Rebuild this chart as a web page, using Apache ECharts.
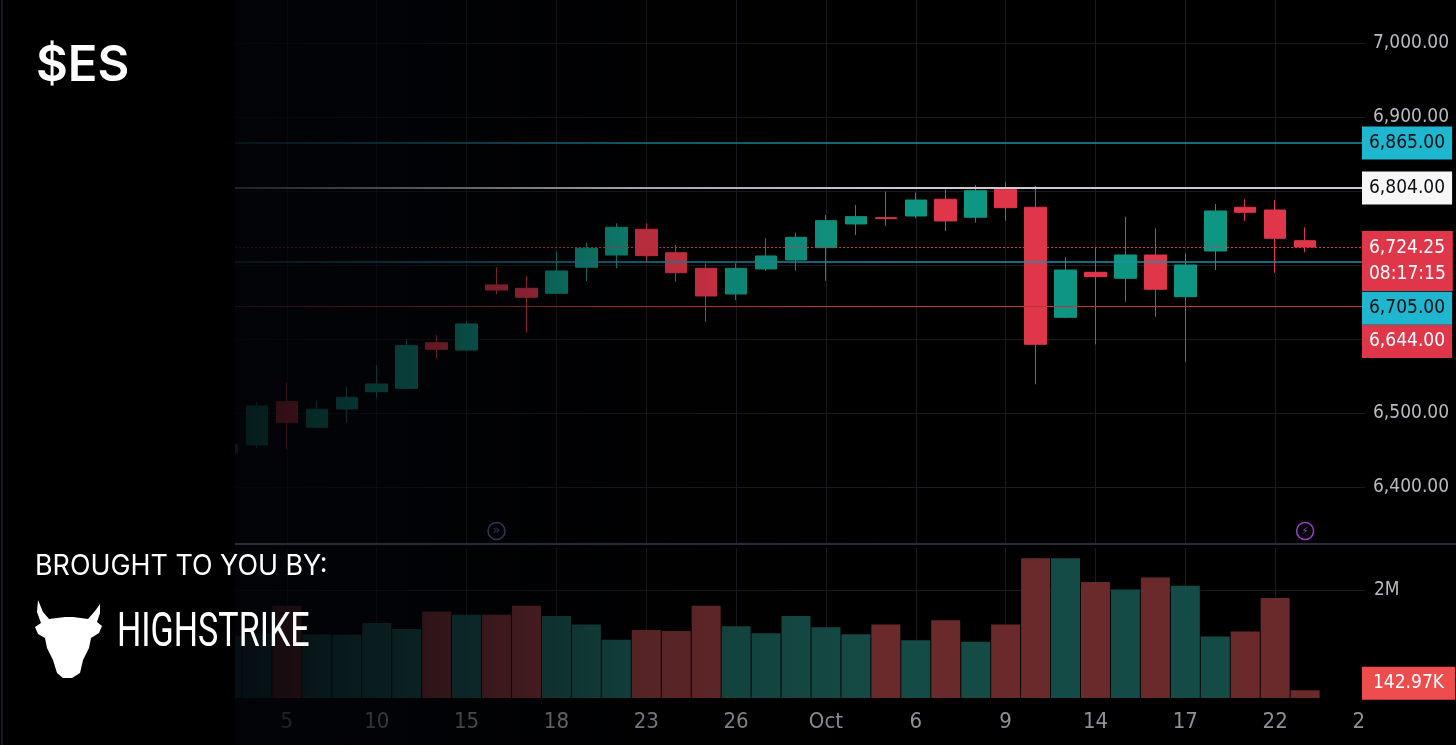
<!DOCTYPE html>
<html lang="en">
<head>
    <meta charset="UTF-8">
    <title>$ES daily</title>
    <script src="https://cdn.jsdelivr.net/npm/echarts@6/dist/echarts.min.js"></script>
    <style>
        html, body { margin: 0; padding: 0; background: #000; }
        #main { width: 1456px; height: 745px; }
    </style>
</head>
<body>
<div id="main"></div>
<script type="text/javascript">
    // daily candles, Sep 3 - Oct 27 (last two days still empty)
    var dates = ['2025-09-03','2025-09-04','2025-09-05','2025-09-08','2025-09-09','2025-09-10','2025-09-11','2025-09-12',
        '2025-09-15','2025-09-16','2025-09-17','2025-09-18','2025-09-19','2025-09-22','2025-09-23','2025-09-24',
        '2025-09-25','2025-09-26','2025-09-29','2025-09-30','2025-10-01','2025-10-02','2025-10-03','2025-10-06',
        '2025-10-07','2025-10-08','2025-10-09','2025-10-10','2025-10-13','2025-10-14','2025-10-15','2025-10-16',
        '2025-10-17','2025-10-20','2025-10-21','2025-10-22','2025-10-23','2025-10-24','2025-10-27'];
    var opens  = [6446, 6456.8, 6515.3, 6480.7, 6505.4, 6528.8, 6533.4, 6595, 6585.1, 6673, 6668.5, 6661.8, 6696.9,
        6713.5, 6748.2, 6716.6, 6695.5, 6660.8, 6694.6, 6706.8, 6723.4, 6755.4, 6763.9, 6766.2, 6788.8, 6764.5,
        6802.3, 6778, 6629.3, 6690.1, 6682, 6713.5, 6657.2, 6718.9, 6778, 6774.3, 6732.8];
    var highs  = [6461, 6515.3, 6541, 6516.6, 6534.7, 6564.9, 6599.6, 6605.4, 6623.4, 6696.9, 6685.1, 6718, 6730.1,
        6756.4, 6756.4, 6727, 6702.3, 6702.3, 6736.1, 6743.6, 6767.6, 6781.1, 6799.1, 6797.7, 6802.3, 6808.1,
        6811.8, 6806.8, 6710.4, 6723.4, 6765.3, 6749.6, 6715.8, 6782.4, 6788.8, 6787.8, 6750.9];
    var lows   = [6440, 6453.1, 6451, 6479.3, 6486.9, 6519.9, 6532, 6574, 6584, 6660.4, 6608.5, 6660.8, 6678.4,
        6695.5, 6703.1, 6677.4, 6623.4, 6652.7, 6692, 6692.3, 6678.8, 6740.5, 6752.7, 6763.1, 6745.9, 6757.2,
        6759.9, 6538.8, 6628, 6592.8, 6650.4, 6630.1, 6569.3, 6693.2, 6759.5, 6689.6, 6717.2];
    var closes = [6457, 6509.5, 6486.9, 6505, 6521.2, 6539.2, 6591, 6586.1, 6620.3, 6666.2, 6656.4, 6691.9, 6722.6,
        6750.9, 6712.6, 6689.6, 6658.1, 6695.5, 6712.2, 6737.4, 6759.9, 6765.3, 6762.6, 6787.8, 6759.5, 6800.4,
        6777.4, 6592.8, 6693.2, 6684.2, 6713.5, 6667.2, 6700, 6773, 6771.2, 6736.1, 6724.25];
    var volumes = [1150000, 1200000, 1710000, 1180000, 1170000, 1390000, 1280000, 1600000, 1540000, 1540000, 1710000,
        1520000, 1360000, 1080000, 1260000, 1240000, 1710000, 1330000, 1200000, 1520000, 1310000, 1180000, 1360000,
        1070000, 1440000, 1040000, 1360000, 2590000, 2590000, 2150000, 2010000, 2230000, 2080000, 1140000, 1230000,
        1850000, 142970];

    var priceTicks = [6400, 6500, 6600, 6700, 6800, 6900, 7000];
    var priceLabels = [6400, 6500, 6900, 7000];
    var volumeTicks = [2000000];

    // horizontal levels drawn on the chart
    var cyanLevels = [6865, 6705];
    var whiteLevel = 6804;
    var redLevel = 6644;
    var lastPrice = 6724.25;
    var countdown = '08:17:15';

    var upColor = '#0f9682';
    var downColor = '#e03649';
    var narrow = "'Liberation Sans Narrow', 'DejaVu Sans Condensed', 'Liberation Sans', sans-serif";

    // bull head outline for the logo
    var bullShape = [[3,0],[8,12],[14,19],[30,17],[38,17],[53,19],[60,11],[65,4],[65,13],[62,22],[67,26],[64,33],
        [56,38],[54,48],[48,60],[45,73],[37,78],[28,78],[22,73],[18,60],[12,48],[10,38],[3,34],[0,27],[6,23],[2,12]];

    function fmtPrice(v) {
        return v.toLocaleString('en-US', { minimumFractionDigits: 2, maximumFractionDigits: 2 });
    }
    function dayLabel(d) {
        var day = parseInt(d.slice(8), 10);
        if (day === 1) return 'Oct';
        return String(day);
    }
    function showTick(idx) { return idx % 3 === 2; }
    function showGrid(idx) { return idx % 3 === 2 && idx < dates.length - 1; }

    var candles = [];
    var vols = [];
    for (var i = 0; i < dates.length; i++) {
        if (i < opens.length) {
            candles.push([opens[i], closes[i], lows[i], highs[i]]);
            vols.push({
                value: volumes[i],
                itemStyle: { color: closes[i] >= opens[i] ? '#154b46' : '#6a2a2c' }
            });
        } else {
            candles.push('-');
            vols.push('-');
        }
    }

    function tag(bg, fg, extra) {
        var l = {
            show: true, position: 'end', distance: -3,
            formatter: function (p) { return fmtPrice(p.value); },
            backgroundColor: bg, color: fg,
            fontFamily: narrow, fontSize: 19, lineHeight: 24,
            padding: [5, 7, 4, 7]
        };
        for (var k in extra) l[k] = extra[k];
        return l;
    }

    var chart = echarts.init(document.getElementById('main'));

    var option = {
        backgroundColor: '#000',
        animation: false,
        grid: [
            { left: 227, right: 91, top: 0, height: 543 },
            { left: 227, right: 91, top: 548, height: 150 }
        ],
        xAxis: [
            {
                type: 'category', gridIndex: 0, data: dates, boundaryGap: false,
                axisLine: { show: false }, axisTick: { show: false }, axisLabel: { show: false },
                splitLine: { show: true, interval: showGrid, lineStyle: { color: '#191b21', width: 1 } }
            },
            {
                type: 'category', gridIndex: 1, data: dates, boundaryGap: false,
                axisLine: { show: false }, axisTick: { show: false },
                axisLabel: {
                    show: true, interval: showTick, formatter: dayLabel, margin: 13,
                    color: '#8e9099', fontFamily: narrow, fontSize: 22
                },
                splitLine: { show: true, interval: showGrid, lineStyle: { color: '#191b21', width: 1 } }
            }
        ],
        yAxis: [
            {
                type: 'value', gridIndex: 0, position: 'right', scale: true,
                min: 6324.3, max: 7058.1,
                axisLine: { show: false },
                axisTick: { show: false, customValues: priceTicks },
                axisLabel: {
                    customValues: priceLabels, formatter: fmtPrice, margin: 8,
                    color: '#b8bac0', fontFamily: narrow, fontSize: 19
                },
                splitLine: { show: true, lineStyle: { color: '#191b21', width: 1 } }
            },
            {
                type: 'value', gridIndex: 1, position: 'right', min: 0, max: 2778000,
                axisLine: { show: false },
                axisTick: { show: false, customValues: volumeTicks },
                axisLabel: {
                    customValues: volumeTicks, formatter: function (v) { return (v / 1e6) + 'M'; },
                    margin: 9, color: '#b8bac0', fontFamily: narrow, fontSize: 19
                },
                splitLine: { show: true, lineStyle: { color: '#191b21', width: 1 } }
            }
        ],
        series: [
            {
                name: 'ES', type: 'candlestick', xAxisIndex: 0, yAxisIndex: 0,
                data: candles, barWidth: 22,
                itemStyle: {
                    color: upColor, color0: downColor,
                    borderColor: upColor, borderColor0: downColor, borderWidth: 1
                },
                markLine: {
                    silent: true, symbol: ['none', 'none'], animation: false,
                    data: [
                        { yAxis: cyanLevels[0], lineStyle: { color: '#1d8ea6', width: 1.5, type: 'solid' },
                          label: tag('#1fb6d0', '#0d0f14', {}) },
                        { yAxis: whiteLevel, lineStyle: { color: '#c9cbd0', width: 2, type: 'solid' },
                          label: tag('#f7f7f7', '#0d0f14', {}) },
                        { yAxis: lastPrice, lineStyle: { color: '#d33c48', width: 1, type: [2, 2] },
                          label: tag(downColor, '#ffffff', {
                              lineHeight: 26, padding: [4, 7, 4, 7], offset: [0, 14],
                              formatter: function (p) { return fmtPrice(p.value) + '\n' + countdown; }
                          }) },
                        { yAxis: cyanLevels[1], lineStyle: { color: '#1d8ea6', width: 1.5, type: 'solid' },
                          label: tag('#1fb6d0', '#0d0f14', { offset: [0, 47] }) },
                        { yAxis: redLevel, lineStyle: { color: '#c5323f', width: 1, type: 'solid' },
                          label: tag(downColor, '#ffffff', { offset: [0, 35] }) }
                    ]
                },
                markPoint: {
                    silent: true, animation: false,
                    data: [
                        { coord: ['2025-09-16', 6340.5], symbol: 'circle', symbolSize: 17,
                          itemStyle: { color: 'rgba(0,0,0,0)', borderColor: '#5a5fa0', borderWidth: 1.5 },
                          label: { show: true, formatter: '»', color: '#5a5fa0', fontSize: 13, fontFamily: 'DejaVu Sans' } },
                        { coord: ['2025-10-23', 6340.5], symbol: 'circle', symbolSize: 17,
                          itemStyle: { color: 'rgba(0,0,0,0)', borderColor: '#a43cd2', borderWidth: 1.5 },
                          label: { show: true, formatter: '\u26A1', color: '#a43cd2', fontSize: 10, fontFamily: 'DejaVu Sans' } }
                    ]
                }
            },
            {
                name: 'Volume', type: 'bar', xAxisIndex: 1, yAxisIndex: 1,
                data: vols, barWidth: 29,
                markLine: {
                    silent: true, symbol: ['none', 'none'], animation: false,
                    lineStyle: { color: 'rgba(0,0,0,0)', width: 0 },
                    data: [{
                        yAxis: volumes[volumes.length - 1],
                        label: {
                            show: true, position: 'end', distance: -3, offset: [0, -7],
                            formatter: function (p) { return (p.value / 1000).toFixed(2) + 'K'; },
                            backgroundColor: '#ee4d4d', color: '#ffffff',
                            fontFamily: narrow, fontSize: 19, lineHeight: 24, padding: [5, 11, 4, 11]
                        }
                    }]
                }
            }
        ],
        graphic: [
            {
                type: 'rect', z: 100, silent: true,
                shape: { x: 235, y: 0, width: 660, height: 745 },
                style: {
                    fill: {
                        type: 'linear', x: 0, y: 0, x2: 1, y2: 0,
                        colorStops: [
                            { offset: 0, color: 'rgba(3,4,9,0.86)' },
                            { offset: 0.35, color: 'rgba(3,4,9,0.52)' },
                            { offset: 0.6, color: 'rgba(3,4,9,0.2)' },
                            { offset: 1, color: 'rgba(3,4,9,0)' }
                        ]
                    }
                }
            },
            {
                // price scale column hides the last date label partly
                type: 'rect', z: 100, silent: true,
                shape: { x: 1366, y: 701, width: 90, height: 44 },
                style: { fill: '#000' }
            },
            {
                type: 'line', z: 101, silent: true,
                shape: { x1: 235, y1: 544, x2: 1456, y2: 544 },
                style: { stroke: '#2a2c3a', lineWidth: 2 }
            },
            {
                type: 'rect', z: 110, silent: true,
                shape: { x: 0, y: 0, width: 235, height: 745 },
                style: { fill: '#000' }
            },
            {
                type: 'line', z: 111, silent: true,
                shape: { x1: 2, y1: 0, x2: 2, y2: 745 },
                style: { stroke: '#161a26', lineWidth: 2 }
            },
            {
                type: 'text', z: 112, silent: true, x: 36, y: 66,
                style: { text: '$ES', fill: '#ffffff', font: '600 49px Inter', textVerticalAlign: 'middle' }
            },
            {
                type: 'text', z: 112, silent: true, x: 35, y: 567, scaleX: 0.96,
                style: { text: 'BROUGHT TO YOU BY:', fill: '#ffffff', font: '400 28px Inter', textVerticalAlign: 'middle' }
            },
            {
                type: 'polygon', z: 112, silent: true, x: 35, y: 600,
                shape: { points: bullShape },
                style: { fill: '#ffffff' }
            },
            {
                type: 'text', z: 112, silent: true, x: 117, y: 634, scaleX: 0.71,
                style: { text: 'HIGHSTRIKE', fill: '#ffffff', font: '400 48px Roboto', textVerticalAlign: 'middle' }
            }
        ]
    };

    chart.setOption(option);
</script>
</body>
</html>
